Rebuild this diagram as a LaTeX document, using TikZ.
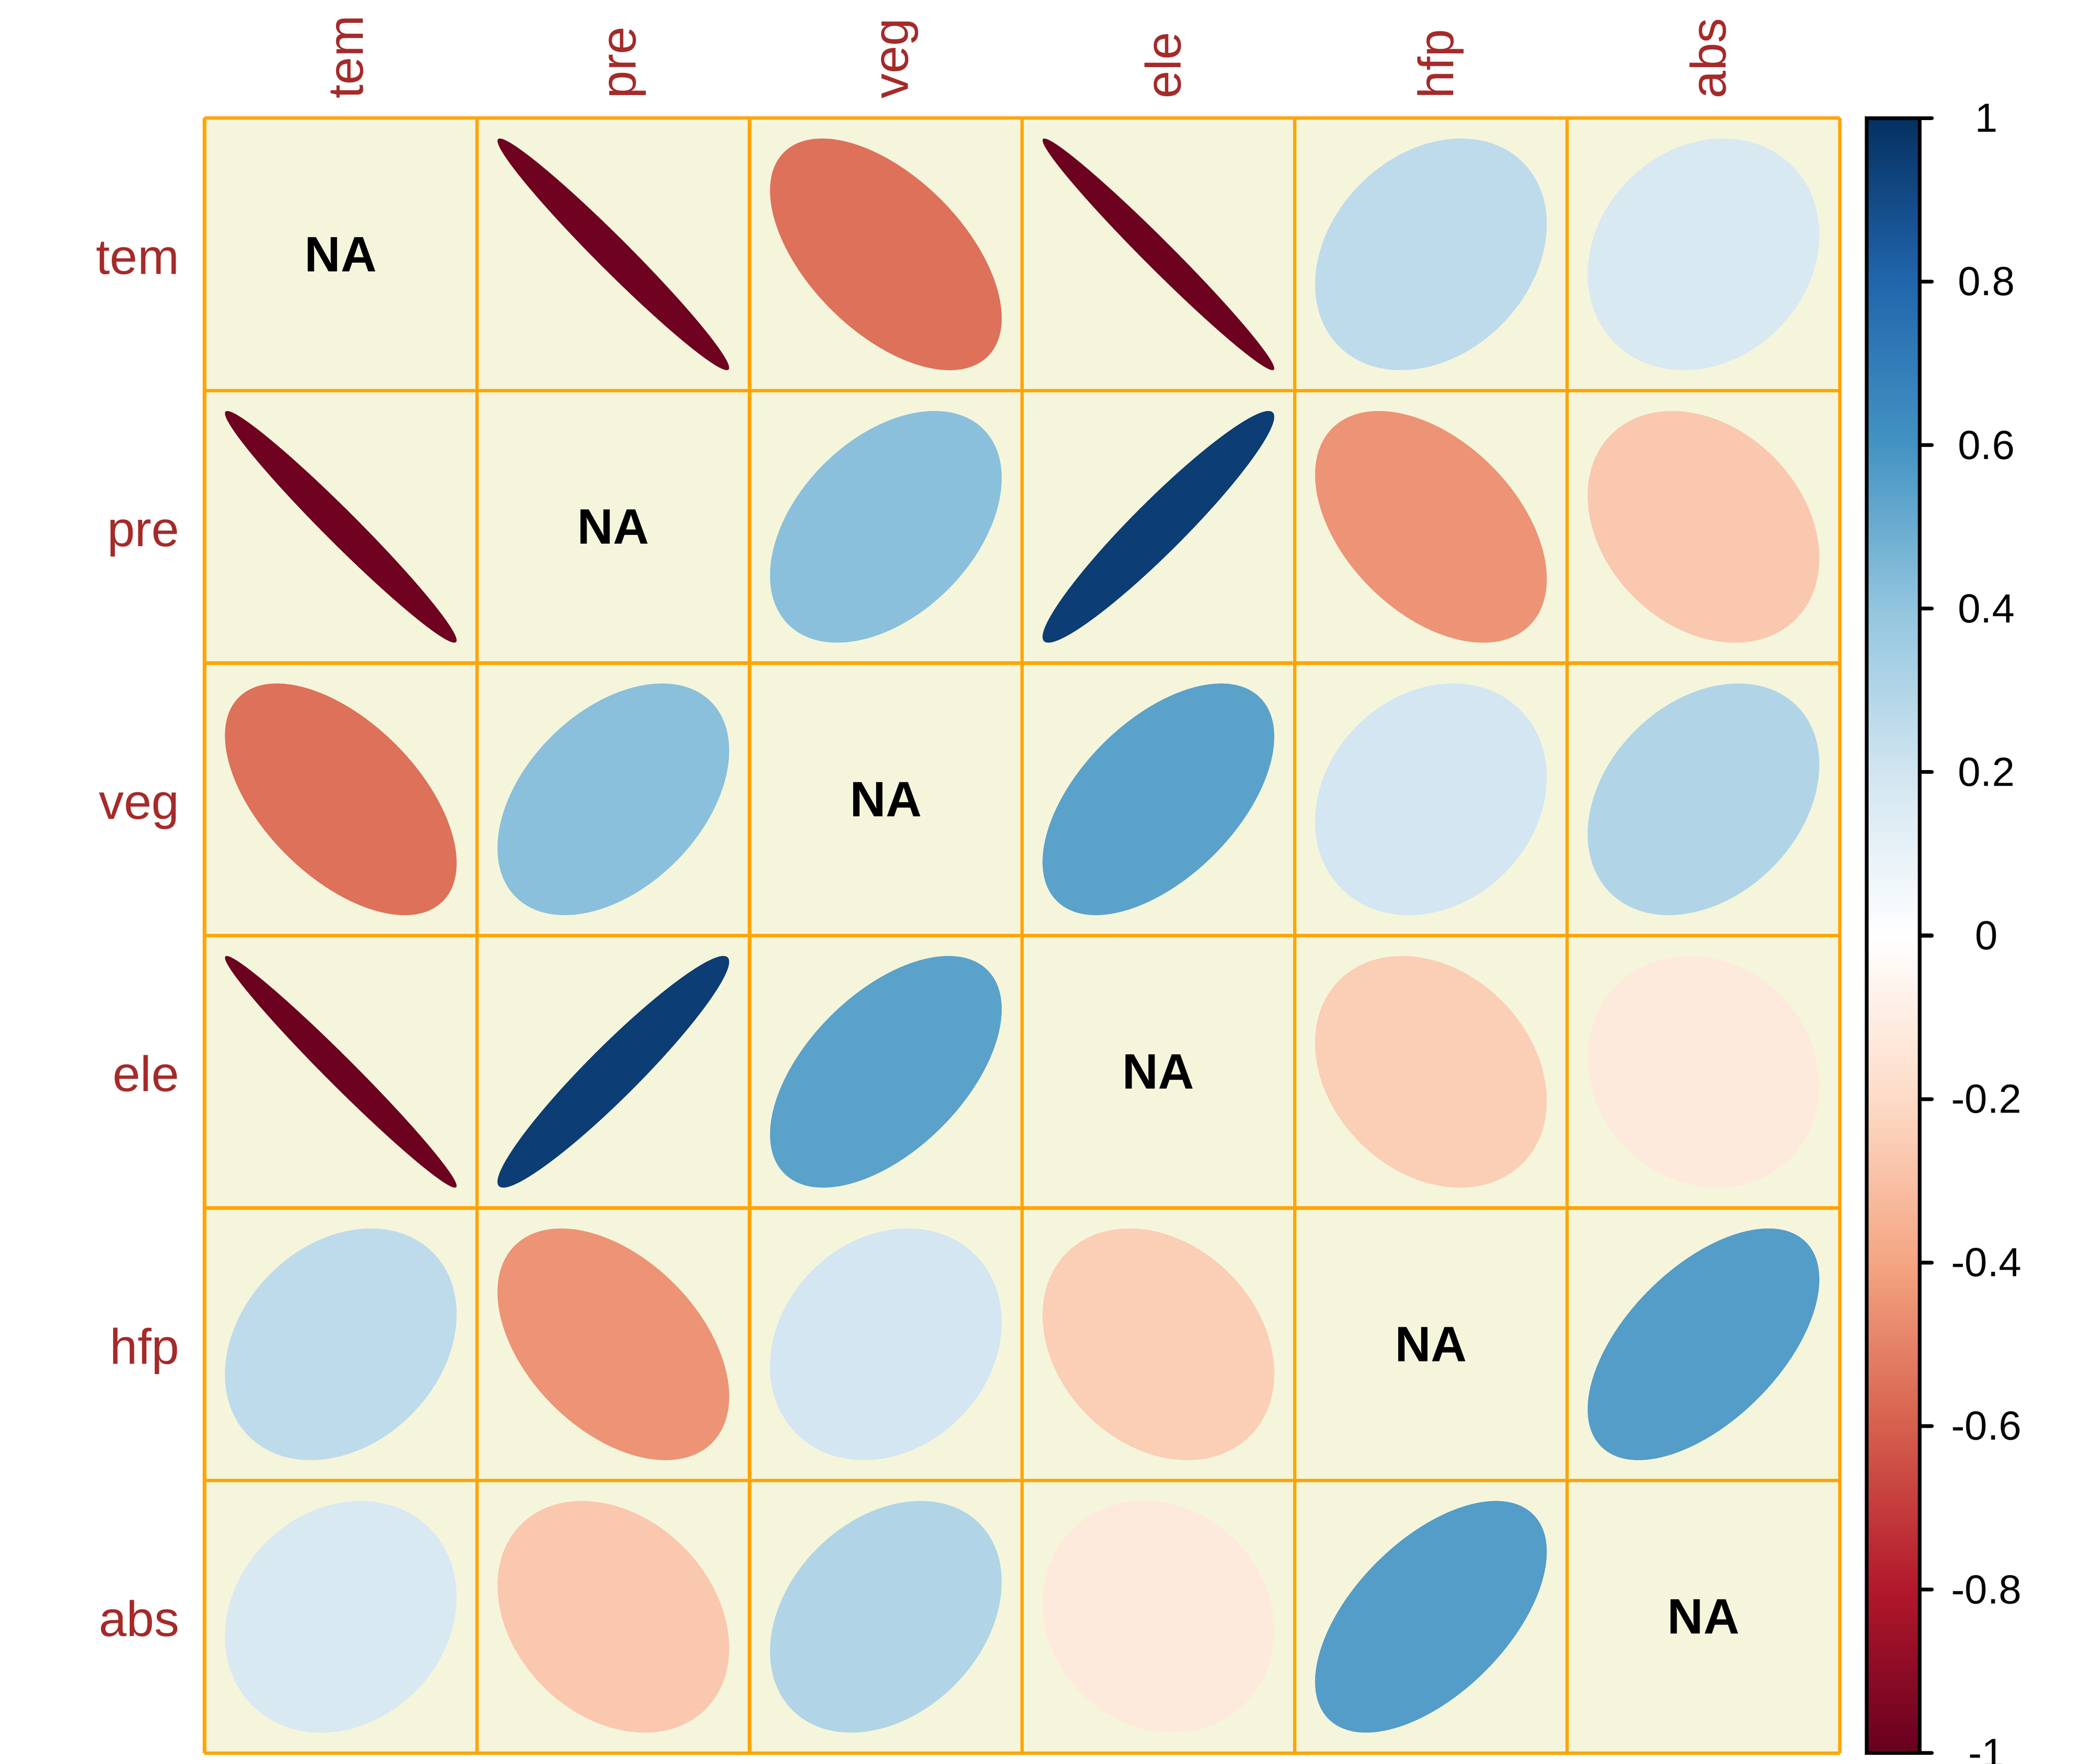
\documentclass[tikz,border=0pt]{standalone}
\usepackage{fontspec}
\setmainfont{Liberation Sans}
\definecolor{labred}{HTML}{A52A2A}
\definecolor{gridor}{HTML}{FFA500}
\definecolor{cellbg}{HTML}{F5F5DC}
\definecolor{rb0}{HTML}{67001F}
\definecolor{rb1}{HTML}{B2182B}
\definecolor{rb2}{HTML}{D6604D}
\definecolor{rb3}{HTML}{F4A582}
\definecolor{rb4}{HTML}{FDDBC7}
\definecolor{rb5}{HTML}{FFFFFF}
\definecolor{rb6}{HTML}{D1E5F0}
\definecolor{rb7}{HTML}{92C5DE}
\definecolor{rb8}{HTML}{4393C3}
\definecolor{rb9}{HTML}{2166AC}
\definecolor{rb10}{HTML}{053061}
\tikzset{
  varlabel/.style={text=labred,inner sep=0pt,font=\fontsize{7.8}{9}\selectfont},
  natext/.style={inner sep=0pt,font=\fontsize{7.8}{9}\selectfont\bfseries},
  barlabel/.style={inner sep=0pt,font=\fontsize{6.37}{8}\selectfont},
  gridline/.style={draw=gridor,line width=0.54pt},
  barline/.style={draw=black,line width=0.6pt,line cap=round}
}
% colour of a correlation value, in ellc
\newcommand{\corrcolor}[1]{%
  \pgfmathsetmacro{\corrpos}{(#1+1)*5}%
  \pgfmathtruncatemacro{\corrlo}{min(floor(\corrpos),9)}%
  \pgfmathtruncatemacro{\corrhi}{\corrlo+1}%
  \pgfmathtruncatemacro{\corrpct}{round(100*(\corrhi-\corrpos))}%
  \colorlet{ellc}{rb\corrlo!\corrpct!rb\corrhi}%
}
\begin{document}
\begin{tikzpicture}[x=1.5cm,y=1.5cm]
  \useasboundingbox (-0.7504,-6.0389) rectangle (6.8999,0.4335);
  \fill[cellbg] (0,0) rectangle (6,-6);
  % ellipses, upper half mirrored
  \foreach \i/\j/\r in {0/1/-0.98, 0/2/-0.55, 0/3/-0.985, 0/4/0.26, 0/5/0.17,
      1/2/0.42, 1/3/0.95, 1/4/-0.45, 1/5/-0.27,
      2/3/0.54, 2/4/0.19, 2/5/0.30,
      3/4/-0.25, 3/5/-0.12,
      4/5/0.56}{
    \corrcolor{\r}
    \pgfmathsetmacro{\ha}{acos(\r)/2}
    \pgfmathsetmacro{\ra}{0.60104*cos(\ha)}
    \pgfmathsetmacro{\rb}{0.60104*sin(\ha)}
    \fill[ellc,shift={(\j+0.5,-\i-0.5)},rotate=45] (0,0) ellipse [x radius=\ra, y radius=\rb];
    \fill[ellc,shift={(\i+0.5,-\j-0.5)},rotate=45] (0,0) ellipse [x radius=\ra, y radius=\rb];
  }
  \foreach \k in {0,...,6}{
    \draw[gridline] (\k,0) -- (\k,-6);
    \draw[gridline] (0,-\k) -- (6,-\k);
  }
  \foreach \name [count=\n from 0] in {tem,pre,veg,ele,hfp,abs}{
    \node[varlabel,anchor=mid east] (row-\name) at (-0.088,-\n-0.51) {\name};
    \node[varlabel,anchor=mid west,rotate=90] (col-\name) at (\n+0.52,0.067) {\name};
    \node[natext] (na-\name) at (\n+0.5,-\n-0.5) {NA};
  }
  % colour bar
  \foreach \k [evaluate=\k as \kk using int(\k+1)] in {0,...,9}
    \shade[bottom color=rb\k,top color=rb\kk] (6.0987,-6+0.6*\k) rectangle (6.293,-5.4+0.6*\k);
  \draw[barline] (6.0987,-6) rectangle (6.293,0);
  \foreach \v [count=\n] in {1,0.8,0.6,0.4,0.2,0,-0.2,-0.4,-0.6,-0.8,-1}{
    \draw[barline] (6.293,{-(1-\v)*3}) -- (6.338,{-(1-\v)*3});
    \node[barlabel] (tick-\n) at (6.538,{-(1-\v)*3}) {\v};
  }
\end{tikzpicture}
\end{document}
